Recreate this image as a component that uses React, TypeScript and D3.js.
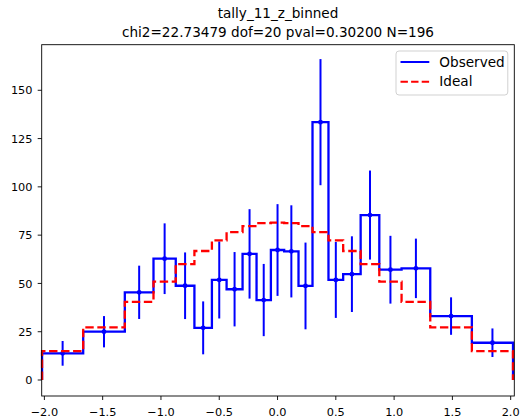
import React from "react";
import * as d3 from "d3";

const binEdges = [-2.02, -1.667, -1.31, -1.064, -0.873, -0.713, -0.563, -0.437, -0.3, -0.18, -0.057, 0.057, 0.18, 0.3, 0.437, 0.563, 0.713, 0.873, 1.064, 1.31, 1.667, 2.02];
const observed = [13.8, 25.0, 45.4, 62.8, 48.8, 27.0, 51.8, 47.0, 65.3, 41.4, 67.3, 66.6, 48.7, 133.5, 51.8, 54.8, 85.4, 57.1, 57.8, 33.1, 19.3];
const observedErr = [6.4, 8.1, 13.8, 18.3, 17.25, 13.7, 19.95, 19.25, 23.15, 18.7, 23.75, 23.85, 22.45, 32.65, 19.65, 19.6, 23.05, 17.55, 15.4, 9.7, 7.4];
const ideal = [15.0, 27.3, 40.5, 50.9, 60.0, 66.8, 72.3, 76.6, 79.7, 81.2, 81.5, 81.2, 79.7, 76.6, 72.3, 66.8, 60.0, 50.9, 40.5, 27.3, 15.0];
const xTicks = [-2.0, -1.5, -1.0, -0.5, 0.0, 0.5, 1.0, 1.5, 2.0];
const yTicks = [0, 25, 50, 75, 100, 125, 150];
const titleLines = ["tally_11_z_binned", "chi2=22.73479 dof=20 pval=0.30200 N=196"];
const legendLabels = ["Observed", "Ideal"];

const W = 522, H = 418;
const L = 41.7, R = 514.3, T = 44.7, B = 396;
const FONT = "DejaVu Sans, sans-serif";

function stepPoints(vals: number[]): [number, number][] {
  const pts: [number, number][] = [[binEdges[0], 0]];
  vals.forEach((v, i) => {
    pts.push([binEdges[i], v]);
    pts.push([binEdges[i + 1], v]);
  });
  pts.push([binEdges[binEdges.length - 1], 0]);
  return pts;
}

const fmt = (v: number) => {
  const s = v.toFixed(1);
  return s.startsWith("-") ? "\u2212" + s.slice(1) : s;
};

export default function App() {
  const x = d3.scaleLinear().domain([-2.023, 2.031]).range([L, R]);
  const y = d3.scaleLinear().domain([-8.28, 173.6]).range([B, T]);
  const line = d3.line<[number, number]>().x(d => x(d[0])).y(d => y(d[1]));
  const centers = observed.map((_, i) => (binEdges[i] + binEdges[i + 1]) / 2);

  return (
    <svg width={W} height={H} style={{ position: "absolute", left: 0, top: 0, background: "white" }} fontFamily={FONT}>
      <rect x={0} y={0} width={W} height={H} fill="white" />
      {/* title */}
      <text x={(L + R) / 2} y={18} textAnchor="middle" fontSize={13.6} fill="#000">{titleLines[0]}</text>
      <text x={(L + R) / 2} y={36.5} textAnchor="middle" fontSize={13.6} fill="#000">{titleLines[1]}</text>

      {/* observed step */}
      <path d={line(stepPoints(observed)) || ""} fill="none" stroke="#0000ff" strokeWidth={2.3} strokeLinejoin="miter" />
      {/* error bars */}
      {observed.map((v, i) => (
        <g key={"e" + i}>
          <line x1={x(centers[i])} x2={x(centers[i])} y1={y(v - observedErr[i])} y2={y(v + observedErr[i])} stroke="#0000ff" strokeWidth={2} />
          <circle cx={x(centers[i])} cy={y(v)} r={2.4} fill="#0000ff" />
        </g>
      ))}
      {/* ideal step */}
      <path d={line(stepPoints(ideal)) || ""} fill="none" stroke="#ff0000" strokeWidth={2.3} strokeDasharray="8.4,3.6" />

      {/* axes frame */}
      <rect x={L} y={T} width={R - L} height={B - T} fill="none" stroke="#000" strokeWidth={0.9} />
      {xTicks.map(t => (
        <g key={"x" + t}>
          <line x1={x(t)} x2={x(t)} y1={B} y2={B + 4} stroke="#000" strokeWidth={0.9} />
          <text x={x(t)} y={416} textAnchor="middle" fontSize={11.3} fill="#000">{fmt(t)}</text>
        </g>
      ))}
      {yTicks.map(t => (
        <g key={"y" + t}>
          <line x1={L - 4} x2={L} y1={y(t)} y2={y(t)} stroke="#000" strokeWidth={0.9} />
          <text x={32.5} y={y(t) + 4.1} textAnchor="end" fontSize={11.3} fill="#000">{t}</text>
        </g>
      ))}

      {/* legend */}
      <rect x={396} y={51} width={111.8} height={44} rx={3} fill="white" fillOpacity={0.8} stroke="#cccccc" strokeWidth={0.9} />
      <line x1={400.5} x2={429.3} y1={62} y2={62} stroke="#0000ff" strokeWidth={2} />
      <text x={439.3} y={66.5} fontSize={13.6} fill="#000">{legendLabels[0]}</text>
      <line x1={400.5} x2={429.3} y1={81.7} y2={81.7} stroke="#ff0000" strokeWidth={2} strokeDasharray="7.4,3.2" />
      <text x={439.3} y={86.2} fontSize={13.6} fill="#000">{legendLabels[1]}</text>
    </svg>
  );
}
